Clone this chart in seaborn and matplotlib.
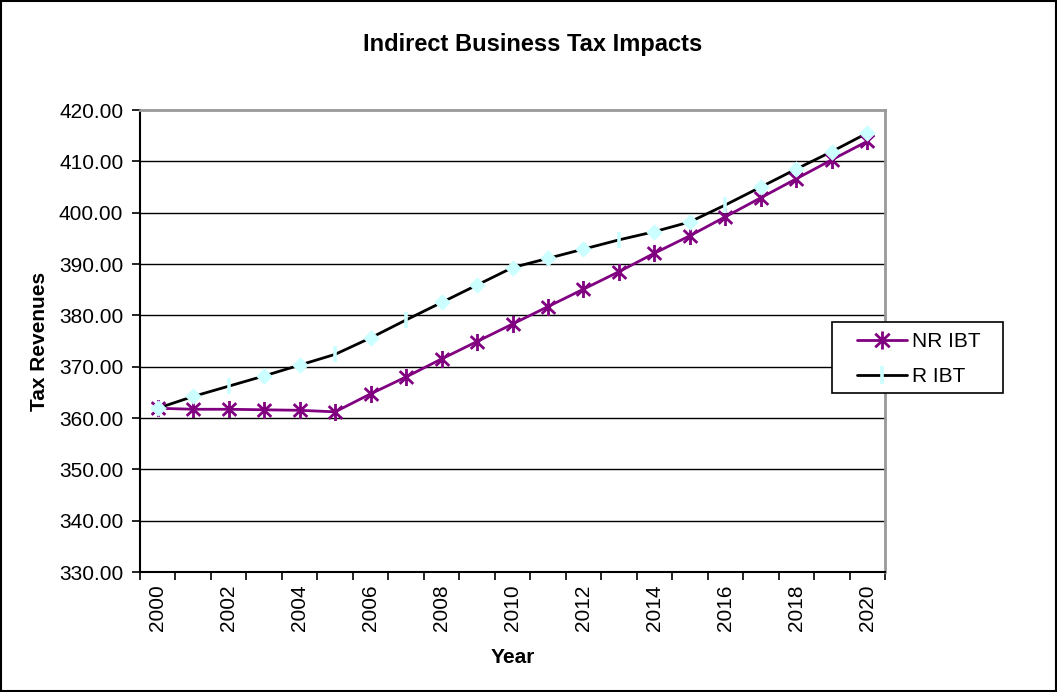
import numpy as np
import pandas as pd
import matplotlib
matplotlib.use("Agg")
import matplotlib.pyplot as plt
import seaborn as sns
from matplotlib.lines import Line2D
from matplotlib.patches import Rectangle
from matplotlib.path import Path

# Indirect business tax revenues by year
years = list(range(2000, 2021))
nr_ibt = [361.9, 361.7, 361.7, 361.6, 361.5, 361.2, 364.7, 368.0, 371.5, 374.9,
          378.3, 381.7, 385.1, 388.5, 392.1, 395.5, 399.2, 402.9, 406.6, 410.3,
          413.9]
r_ibt = [361.9, 364.2, 366.2, 368.2, 370.3, 372.4, 375.6, 379.1, 382.5, 385.9,
         389.3, 391.1, 392.9, 394.7, 396.3, 398.2, 401.5, 405.0, 408.5, 411.9,
         415.5]
# marker used at each R IBT point
r_markers = ["D", "D", "|", "D", "D", "|", "D", "|", "D", "D",
             "D", "D", "D", "|", "D", "D", "|", "D", "D", "D", "D"]
series_names = ["NR IBT", "R IBT"]
y_ticks = [330, 340, 350, 360, 370, 380, 390, 400, 410, 420]

PURPLE = "#800080"
CYAN = "#CCFFFF"
W, H = 1057, 692

# star marker: vertical stroke plus an X
STAR = Path([(0, -1), (0, 1), (-0.8, -0.75), (0.8, 0.75), (-0.8, 0.75), (0.8, -0.75)],
            [Path.MOVETO, Path.LINETO, Path.MOVETO, Path.LINETO, Path.MOVETO, Path.LINETO])

sns.set_style("white")
plt.rcParams["font.family"] = ["Liberation Sans", "DejaVu Sans"]
plt.rcParams.update({
    "text.color": "black",
    "axes.labelcolor": "black",
    "xtick.color": "black",
    "ytick.color": "black",
})

idx = np.arange(len(years))
df = pd.DataFrame({
    "pos": np.concatenate([idx, idx]),
    "value": nr_ibt + r_ibt,
    "series": [series_names[0]] * len(years) + [series_names[1]] * len(years),
})

fig = plt.figure(figsize=(W / 100, H / 100), dpi=100)
ax = fig.add_axes([140 / W, 1 - 572 / H, 745 / W, 462 / H])

# grid lines
for v in y_ticks[1:-1]:
    ax.axhline(v, color="black", lw=1.0, zorder=1)

sns.lineplot(data=df, x="pos", y="value", hue="series",
             palette={series_names[0]: PURPLE, series_names[1]: "black"},
             linewidth=2.0, legend=False, ax=ax, zorder=3, estimator=None)

nr_df = df[df["series"] == series_names[0]]
sns.scatterplot(data=nr_df, x="pos", y="value", marker=STAR, s=150,
                color=PURPLE, edgecolor=PURPLE, linewidth=2.0, ax=ax, zorder=4, legend=False)

r_df = df[df["series"] == series_names[1]].copy()
r_df["mk"] = r_markers
diam = r_df[r_df["mk"] == "D"]
bars = r_df[r_df["mk"] == "|"]
sns.scatterplot(data=diam, x="pos", y="value", marker="D", s=62,
                color=CYAN, edgecolor=CYAN, linewidth=0.5, ax=ax, zorder=5, legend=False)
sns.scatterplot(data=bars, x="pos", y="value", marker="|", s=130,
                color=CYAN, linewidth=2.6, ax=ax, zorder=5, legend=False)

ax.set_xlim(-0.5, len(years) - 0.5)
ax.set_ylim(330, 420)
ax.set_yticks(y_ticks)
ax.set_yticklabels([f"{v:.2f}" for v in y_ticks], fontsize=15, color="black")
ax.set_xticks(idx[::2])
ax.set_xticklabels([str(y) for y in years[::2]], rotation=90, fontsize=15, color="black")
ax.set_xticks(np.arange(-0.5, len(years), 1), minor=True)
ax.tick_params(axis="x", which="major", length=0, pad=9)
ax.tick_params(axis="x", which="minor", length=6, width=1.2, color="black", direction="out", bottom=True)
ax.tick_params(axis="y", which="major", length=6, width=1.2, color="black", direction="out", left=True, pad=6)

ax.set_xlabel("Year", fontsize=15, fontweight="bold", labelpad=12, color="black")
ax.set_ylabel("Tax Revenues", fontsize=15, fontweight="bold", labelpad=7, color="black")
fig.text(533 / W, 1 - 45 / H, "Indirect Business Tax Impacts", fontsize=17,
         fontweight="bold", ha="center", va="center", color="black")

for side in ["left", "bottom"]:
    ax.spines[side].set_color("black")
    ax.spines[side].set_linewidth(1.5)
for side in ["top", "right"]:
    ax.spines[side].set_color("#999999")
    ax.spines[side].set_linewidth(2.0)

# legend box
fig.patches.append(Rectangle((832 / W, 1 - 393 / H), 171 / W, 71 / H,
                             transform=fig.transFigure, facecolor="white",
                             edgecolor="black", lw=1.2, zorder=10))
handles = [
    Line2D([], [], color=PURPLE, lw=2.0, marker=STAR, markersize=13,
           markeredgewidth=2.0, markeredgecolor=PURPLE),
    Line2D([], [], color="black", lw=2.0, marker="|", markersize=13,
           markeredgewidth=2.6, markeredgecolor=CYAN),
]
leg = fig.legend(handles, series_names, loc="center",
                 bbox_to_anchor=(919 / W, 1 - 359 / H),
                 fontsize=15, frameon=False, handlelength=2.4,
                 handletextpad=0.25, borderpad=0, labelspacing=0.75,
                 borderaxespad=0, labelcolor="black")
leg.set_zorder(11)

# outer chart border
fig.patches.append(Rectangle((0.001, 0.001), 0.998, 0.998, transform=fig.transFigure,
                             fill=False, edgecolor="black", lw=1.5))

fig.savefig("out.png", dpi=100)
